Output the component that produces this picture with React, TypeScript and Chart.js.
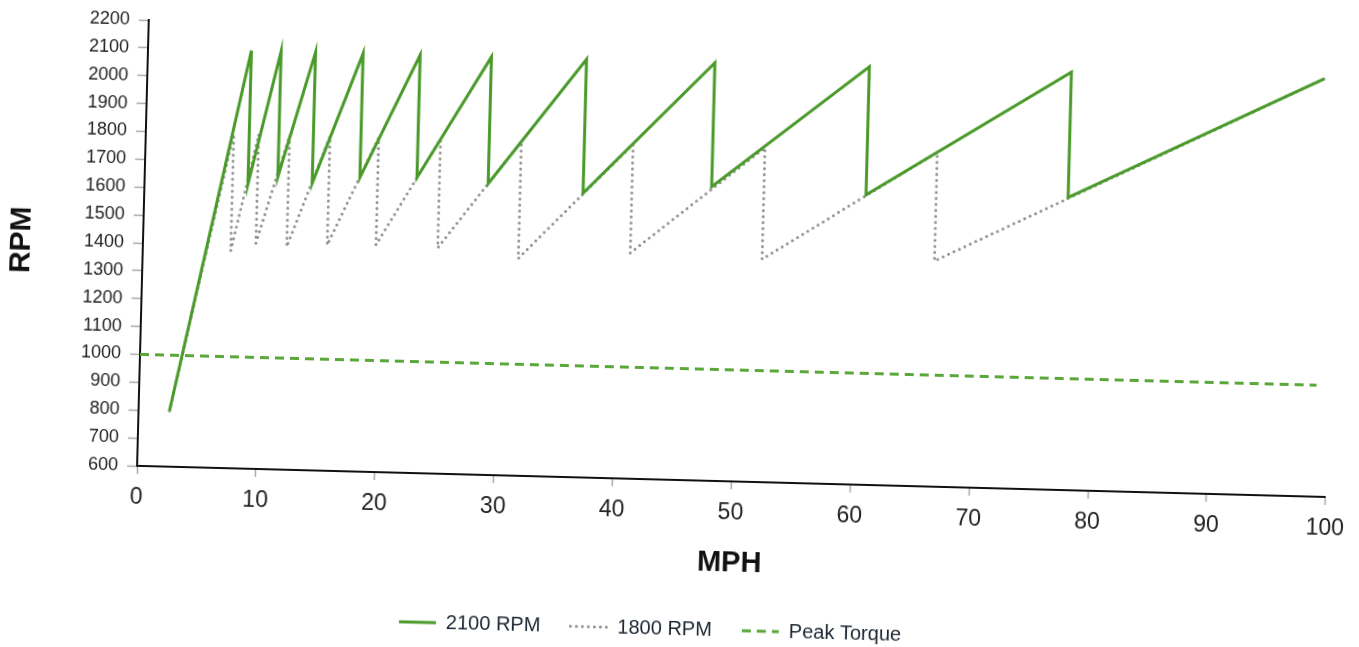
import React, { useEffect, useRef } from "react";
import { Chart, registerables } from "chart.js";

Chart.register(...registerables);

// 2100 RPM shift pattern (MPH, RPM)
const mph2100 = [2.6, 8.7, 8.7, 11.2, 11.2, 14.1, 14.1, 18.1, 18.1, 22.9, 22.9, 28.9, 28.9, 36.9, 36.9, 47.7, 47.7, 60.7, 60.7, 77.7, 77.7, 99];
const rpm2100 = [800, 2100, 1620, 2100, 1650, 2100, 1630, 2100, 1655, 2100, 1660, 2100, 1645, 2100, 1620, 2100, 1655, 2100, 1640, 2100, 1650, 2100];

// 1800 RPM shift pattern (MPH, RPM)
const mph1800 = [2.6, 7.4, 7.4, 9.5, 9.5, 12.1, 12.1, 15.5, 15.5, 19.6, 19.6, 24.8, 24.8, 31.6, 31.6, 41.0, 41.0, 52.1, 52.1, 66.6, 66.6, 99];
const rpm1800 = [800, 1800, 1380, 1800, 1410, 1800, 1400, 1800, 1410, 1800, 1415, 1800, 1410, 1800, 1380, 1800, 1410, 1800, 1400, 1800, 1410, 2100];

// Peak torque line
const mphTorque = [0, 99];
const rpmTorque = [1000, 1000];

const seriesNames = ["2100 RPM", "1800 RPM", "Peak Torque"];
const xRange = [0, 100];
const yRange = [600, 2200];
const xStep = 10;
const yStep = 100;

const FONT = "'Liberation Sans', Arial, Helvetica, sans-serif";

function toPoints(xs: number[], ys: number[]) {
  return xs.map((x, i) => ({ x, y: ys[i] }));
}

export default function App() {
  const canvasRef = useRef<HTMLCanvasElement | null>(null);

  useEffect(() => {
    if (!canvasRef.current) return;
    const chart = new Chart(canvasRef.current, {
      type: "scatter",
      data: {
        datasets: [
          {
            label: seriesNames[0],
            data: toPoints(mph2100, rpm2100),
            showLine: true,
            borderColor: "#4a9a2a",
            backgroundColor: "#4a9a2a",
            borderWidth: 3,
            pointRadius: 0,
            borderJoinStyle: "miter",
          },
          {
            label: seriesNames[1],
            data: toPoints(mph1800, rpm1800),
            showLine: true,
            borderColor: "#929292",
            backgroundColor: "#929292",
            borderWidth: 3,
            borderDash: [0, 6],
            borderCapStyle: "round",
            pointRadius: 0,
          },
          {
            label: seriesNames[2],
            data: toPoints(mphTorque, rpmTorque),
            showLine: true,
            borderColor: "#5aa83a",
            backgroundColor: "#5aa83a",
            borderWidth: 3,
            borderDash: [9, 6],
            pointRadius: 0,
          },
        ],
      },
      options: {
        responsive: false,
        animation: false,
        layout: { padding: { left: -16, right: 27, top: 34, bottom: -2 } },
        plugins: {
          legend: {
            position: "bottom",
            labels: {
              usePointStyle: true,
              pointStyle: "line",
              pointStyleWidth: 37,
              padding: 30,
              color: "#1b2631",
              font: { size: 20, family: FONT },
              generateLabels: (c: any) =>
                c.data.datasets.map((ds: any, i: number) => ({
                  text: ds.label,
                  datasetIndex: i,
                  hidden: false,
                  pointStyle: "line",
                  strokeStyle: ds.borderColor,
                  fillStyle: ds.borderColor,
                  lineWidth: ds.borderWidth,
                  lineDash: ds.borderDash || [],
                  lineCap: ds.borderCapStyle || "butt",
                  fontColor: "#1b2631",
                })),
            },
          },
          tooltip: { enabled: false },
        },
        scales: {
          x: {
            type: "linear",
            min: xRange[0],
            max: xRange[1],
            ticks: {
              stepSize: xStep,
              padding: 10,
              color: "#222",
              font: { size: 23, family: FONT },
              callback: (v: any) => String(v),
            },
            grid: {
              drawOnChartArea: false,
              tickLength: 8,
              color: "#a8a8a8",
              tickWidth: 1.5,
            },
            border: { color: "#111", width: 2 },
            title: {
              display: true,
              text: "MPH",
              color: "#111",
              font: { size: 29, weight: "bold", family: FONT },
              padding: { top: 0, bottom: 10 },
            },
            afterFit: (s: any) => {
              s.height = 109;
            },
          },
          y: {
            type: "linear",
            min: yRange[0],
            max: yRange[1],
            ticks: {
              stepSize: yStep,
              padding: 9,
              color: "#222",
              font: { size: 18, family: FONT },
              callback: (v: any) => String(v),
            },
            grid: {
              drawOnChartArea: false,
              tickLength: 10,
              color: "#a8a8a8",
              tickWidth: 1.5,
            },
            border: { color: "#111", width: 2 },
            title: {
              display: true,
              text: "RPM",
              color: "#111",
              font: { size: 30, weight: "bold", family: FONT },
              padding: { top: 18, bottom: 0 },
            },
            afterFit: (s: any) => {
              s.width = 157;
            },
          },
        },
      },
    } as any);
    return () => chart.destroy();
  }, []);

  return (
    <div
      style={{
        position: "fixed",
        left: 0,
        top: 0,
        width: 1359,
        height: 647,
        overflow: "hidden",
        background: "#fff",
      }}
    >
      <canvas
        ref={canvasRef}
        width={1359}
        height={647}
        style={{
          display: "block",
          width: 1359,
          height: 647,
          transform: "rotate(1.5deg)",
          transformOrigin: "679.5px 323.5px",
        }}
      />
    </div>
  );
}
